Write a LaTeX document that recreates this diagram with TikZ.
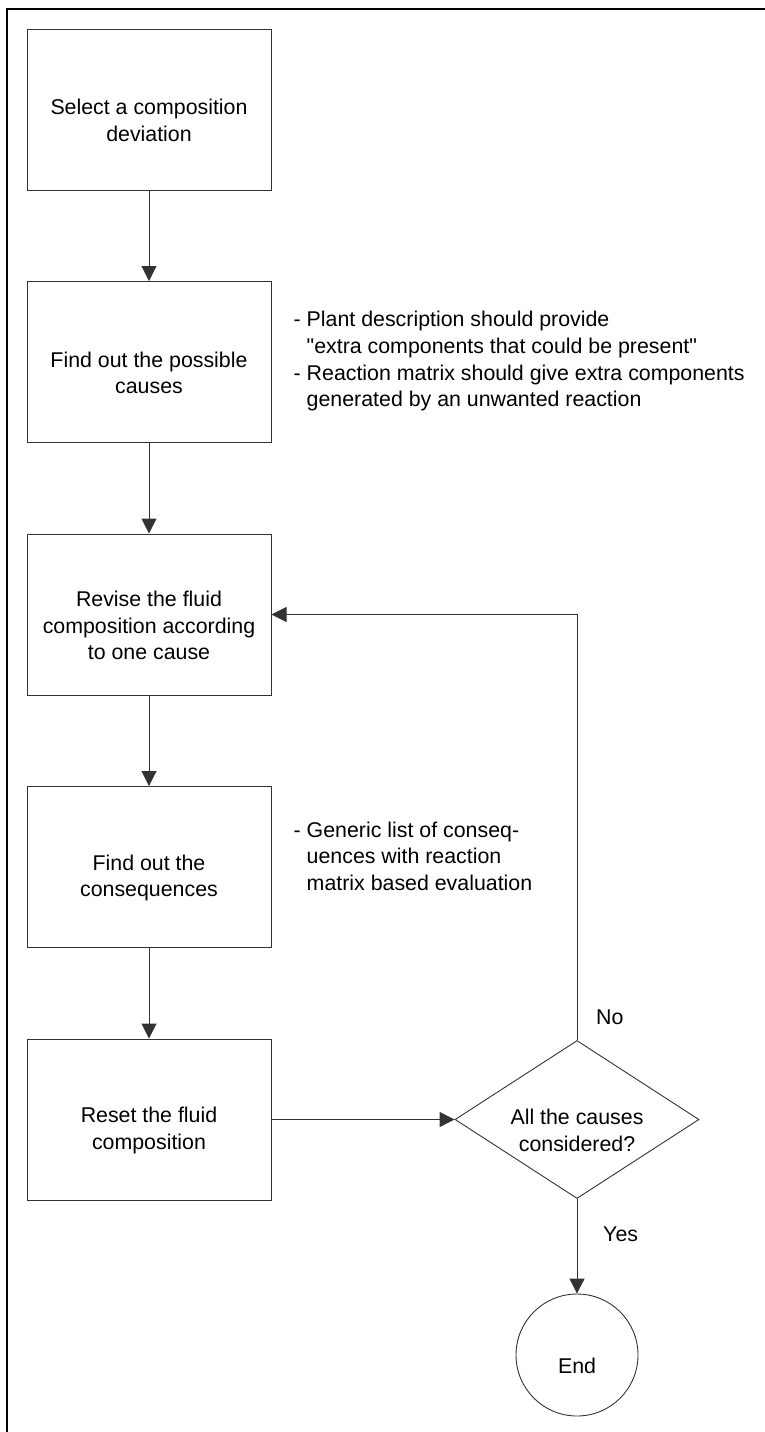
\documentclass[tikz,border=0pt]{standalone}
\usepackage{fontspec}
\setmainfont{Liberation Sans}
\usetikzlibrary{arrows.meta,shapes.geometric}

\begin{document}
\begin{tikzpicture}[x=1pt,y=-1pt,
  every node/.style={font=\fontsize{21.35}{26.7}\selectfont},
  stepbox/.style={draw=black!80, line width=1pt, rectangle, inner sep=0pt,
    minimum width=244pt, minimum height=161pt},
  decision/.style={draw=black!80, line width=0.9pt, diamond, inner sep=0pt,
    minimum width=244pt, minimum height=158pt},
  terminal/.style={draw=black!80, line width=0.9pt, circle, inner sep=0pt,
    minimum size=122pt},
  inside/.style={align=center, yshift=-11pt, inner sep=0pt},
  note/.style={align=left, anchor=north west, inner sep=0pt},
  conn/.style={draw=black!80, line width=1pt,
    -{Triangle[length=15pt,width=15pt]}},
  frameline/.style={line width=2.2pt, line cap=rect}
]
\useasboundingbox (0,0) rectangle (765,1432);

% open frame: left and top edges only
\draw[frameline] (7,1440) -- (7,9) -- (770,9);

% process steps
\node[stepbox, label={[inside]center:Select a composition\\deviation}]
  (select) at (149,109.5) {};
\node[stepbox, label={[inside]center:Find out the possible\\causes}]
  (causes) at (149,362) {};
\node[stepbox, label={[inside]center:Revise the fluid\\composition according\\to one cause}]
  (revise) at (149,614.5) {};
\node[stepbox, label={[inside]center:Find out the\\consequences}]
  (conseq) at (149,867) {};
\node[stepbox, label={[inside]center:Reset the fluid\\composition}]
  (reset) at (149,1119.5) {};

% decision and end
\node[decision, label={[inside]center:All the causes\\considered?}]
  (check) at (577,1119.5) {};
\node[terminal, label={[inside]center:End}]
  (finish) at (577,1355) {};

% side notes
\node[note] (causenote) at (293.5,311)
  {- Plant description should provide\\
   \hphantom{- }\textquotedbl extra components that could be present\textquotedbl\\
   - Reaction matrix should give extra components\\
   \hphantom{- }generated by an unwanted reaction};
\node[note] (conseqnote) at (293.5,821.5)
  {- Generic list of conseq-\\
   \hphantom{- }uences with reaction\\
   \hphantom{- }matrix based evaluation};

% branch labels
\node[anchor=base west, inner sep=0pt] (nolabel) at (596,1024) {No};
\node[anchor=base west, inner sep=0pt] (yeslabel) at (603,1241) {Yes};

% connectors
\draw[conn] (select) -- (causes);
\draw[conn] (causes) -- (revise);
\draw[conn] (revise) -- (conseq);
\draw[conn] (conseq) -- (reset);
\draw[conn] (reset) -- (check);
\draw[conn] (check.north) |- (revise.east);
\draw[conn] (check.south) -- (finish.north);
\end{tikzpicture}
\end{document}
